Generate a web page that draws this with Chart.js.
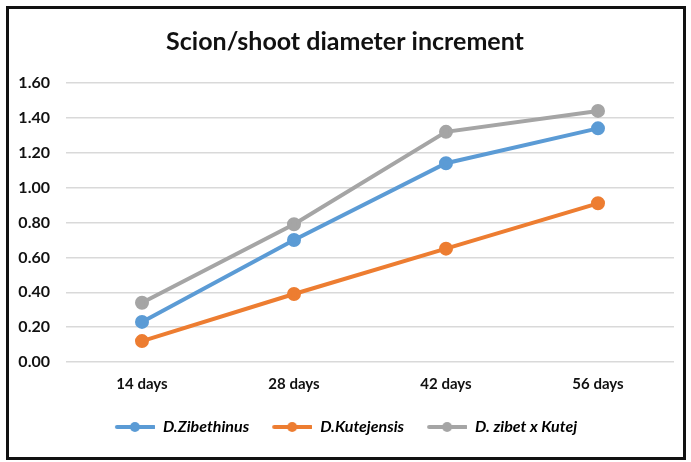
<!DOCTYPE html>
<html>
<head>
<meta charset="utf-8">
<script src="https://cdn.jsdelivr.net/npm/chart.js@4"></script>
<style>
  html, body { margin: 0; padding: 0; background: #fff; }
  #frame {
    position: absolute; left: 6px; top: 6px; width: 674px; height: 448px;
    border: 3px solid #111; background: #fff;
  }
  #chart { display: block; }
</style>
</head>
<body>
<div id="frame"><canvas id="chart" width="674" height="448"></canvas></div>
<script>
const categories = ['14 days', '28 days', '42 days', '56 days'];
const zibethinus = [0.23, 0.70, 1.14, 1.34];
const kutejensis = [0.12, 0.39, 0.65, 0.91];
const hybrid = [0.34, 0.79, 1.32, 1.44];

const seriesNames = ['D.Zibethinus', 'D.Kutejensis', 'D. zibet x Kutej'];
const colors = ['#5b9bd5', '#ed7d31', '#a5a5a5'];

// legend swatch: line with a dot, like the office chart
function swatch(color) {
  const c = document.createElement('canvas');
  c.width = 42; c.height = 12;
  const g = c.getContext('2d');
  g.strokeStyle = color; g.lineWidth = 4; g.lineCap = 'round';
  g.beginPath(); g.moveTo(4, 6); g.lineTo(41, 6); g.stroke();
  g.fillStyle = color;
  g.beginPath(); g.arc(22, 6, 5, 0, Math.PI * 2); g.fill();
  return c;
}

const makeSet = (label, data, color) => ({
  label, data,
  borderColor: color, backgroundColor: color,
  borderWidth: 4, pointRadius: 5, pointHoverRadius: 5,
  pointBackgroundColor: color, pointBorderColor: color,
  tension: 0,
});

const ctx = document.getElementById('chart').getContext('2d');
new Chart(ctx, {
  type: 'line',
  data: {
    labels: categories,
    datasets: [
      makeSet(seriesNames[0], zibethinus, colors[0]),
      makeSet(seriesNames[1], kutejensis, colors[1]),
      makeSet(seriesNames[2], hybrid, colors[2]),
    ],
  },
  options: {
    responsive: false,
    animation: false,
    layout: { padding: { left: 0, right: 2, top: 4, bottom: 12 } },
    plugins: {
      title: {
        display: true,
        text: 'Scion/shoot diameter increment',
        color: '#111',
        font: { family: 'Lato', size: 25, weight: 'bold' },
        padding: { top: 14, bottom: 26 },
      },
      legend: {
        position: 'bottom',
        labels: {
          usePointStyle: true,
          pointStyleWidth: 42,
          boxHeight: 12,
          padding: 21,
          color: '#111',
          font: { family: 'Lato', size: 16, weight: 'bold', style: 'italic' },
          generateLabels(chart) {
            return chart.data.datasets.map((ds, i) => ({
              text: ds.label,
              pointStyle: swatch(colors[i]),
              fillStyle: colors[i],
              strokeStyle: colors[i],
              lineWidth: 0,
              datasetIndex: i,
              hidden: false,
            }));
          },
        },
      },
      tooltip: { enabled: false },
    },
    scales: {
      x: {
        offset: true,
        grid: { display: false },
        border: { display: false },
        ticks: { color: '#111', padding: 5, font: { family: 'Lato', size: 15, weight: 'bold' } },
      },
      y: {
        min: 0, max: 1.6,
        afterFit(scale) { scale.width = 57; },
        ticks: {
          stepSize: 0.2,
          padding: 16,
          color: '#111',
          font: { family: 'Lato', size: 16, weight: 'bold' },
          callback: (v) => v.toFixed(2),
        },
        grid: { color: '#d9d9d9', lineWidth: 1.5, drawTicks: false },
        border: { display: false },
      },
    },
  },
});
</script>
</body>
</html>
